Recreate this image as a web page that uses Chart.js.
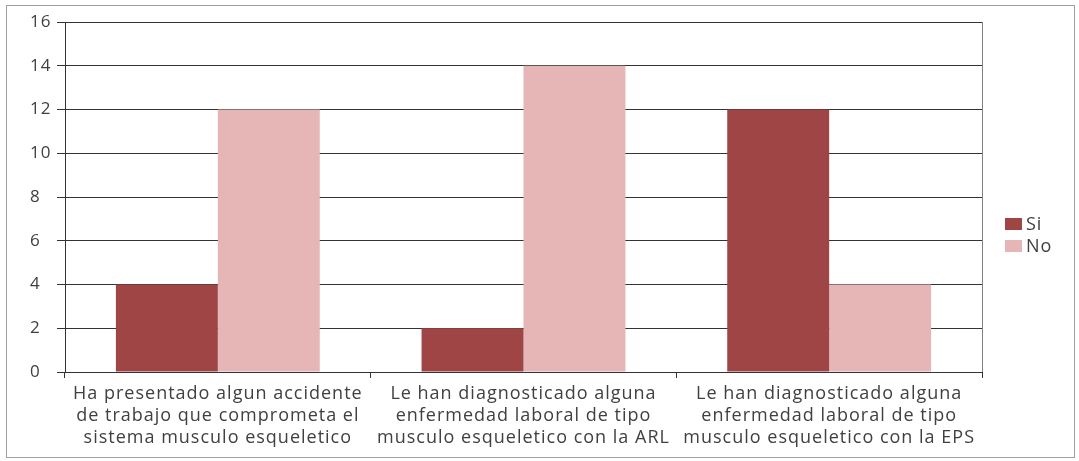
<!DOCTYPE html>
<html>
<head>
<meta charset="utf-8">
<script src="https://cdn.jsdelivr.net/npm/chart.js@4/dist/chart.umd.min.js"></script>
<style>
html,body{margin:0;padding:0;background:#fff;}
#wrap{position:relative;width:1079px;height:461px;}
#frame{position:absolute;left:6px;top:5px;width:1067px;height:451px;border:1px solid #a0a0a0;}
canvas{position:absolute;left:0;top:0;}
</style>
</head>
<body>
<div id="wrap">
<div id="frame"></div>
<canvas id="c" width="1079" height="461"></canvas>
</div>
<script>
const categories = [
  ["Ha presentado algun accidente", "de trabajo que comprometa el", "sistema musculo esqueletico"],
  ["Le han diagnosticado alguna", "enfermedad laboral de tipo", "musculo esqueletico con la ARL"],
  ["Le han diagnosticado alguna", "enfermedad laboral de tipo", "musculo esqueletico con la EPS"]
];
const seriesNames = ["Si", "No"];
const siValues = [4, 2, 12];
const noValues = [12, 14, 4];
const yTicks = [0, 2, 4, 6, 8, 10, 12, 14, 16];

const colors = ["#A04545", "#E6B6B6"];
const FONT = "Open Sans";
const TXT = "#404040";

const spacingPlugin = {
  id: 'spacing',
  beforeInit(chart) { chart.ctx.letterSpacing = '1px'; },
  beforeLayout(chart) { chart.ctx.letterSpacing = '1px'; },
  beforeDraw(chart) { chart.ctx.letterSpacing = '1px'; }
};

const legendPlugin = {
  id: 'customLegend',
  afterDraw(chart) {
    const ctx = chart.ctx;
    const ca = chart.chartArea;
    ctx.save();
    ctx.strokeStyle = '#808080';
    ctx.lineWidth = 1;
    ctx.beginPath();
    ctx.moveTo(Math.round(ca.right) + 0.5, ca.top);
    ctx.lineTo(Math.round(ca.right) + 0.5, ca.bottom);
    ctx.stroke();
    chart.data.datasets.forEach((ds, i) => {
      const y = 218 + i * 22;
      ctx.fillStyle = ds.backgroundColor;
      ctx.fillRect(1005, y, 17, 12);
      ctx.fillStyle = TXT;
      ctx.font = "18px '" + FONT + "'";
      ctx.textBaseline = 'middle';
      ctx.textAlign = 'left';
      ctx.fillText(ds.label, 1026, y + 7);
    });
    ctx.restore();
  }
};

new Chart(document.getElementById('c'), {
  type: 'bar',
  data: {
    labels: categories,
    datasets: [
      { label: seriesNames[0], data: siValues, backgroundColor: colors[0] },
      { label: seriesNames[1], data: noValues, backgroundColor: colors[1] }
    ]
  },
  options: {
    responsive: false,
    animation: false,
    devicePixelRatio: 1,
    layout: { padding: { left: 30, top: 22, right: 97, bottom: 0 } },
    categoryPercentage: 0.667,
    barPercentage: 1.0,
    plugins: { legend: { display: false }, tooltip: { enabled: false } },
    scales: {
      x: {
        afterFit(s) { s.height = 89; },
        grid: { offset: true, drawOnChartArea: false, drawTicks: true, tickLength: 6, color: '#333333' },
        border: { display: true, color: '#333333' },
        ticks: { color: TXT, font: { family: FONT, size: 18, lineHeight: 1.22 }, padding: 5, autoSkip: false, maxRotation: 0, minRotation: 0 }
      },
      y: {
        min: 0, max: 16,
        afterFit(s) { s.width = 35; },
        afterBuildTicks(s) { s.ticks = yTicks.map(v => ({ value: v })); },
        grid: { color: '#333333', tickLength: 8, drawTicks: true },
        border: { display: true, color: '#333333' },
        ticks: { color: TXT, font: { family: FONT, size: 17 }, crossAlign: 'far', padding: 4 }
      }
    }
  },
  plugins: [spacingPlugin, legendPlugin]
});
</script>
</body>
</html>
